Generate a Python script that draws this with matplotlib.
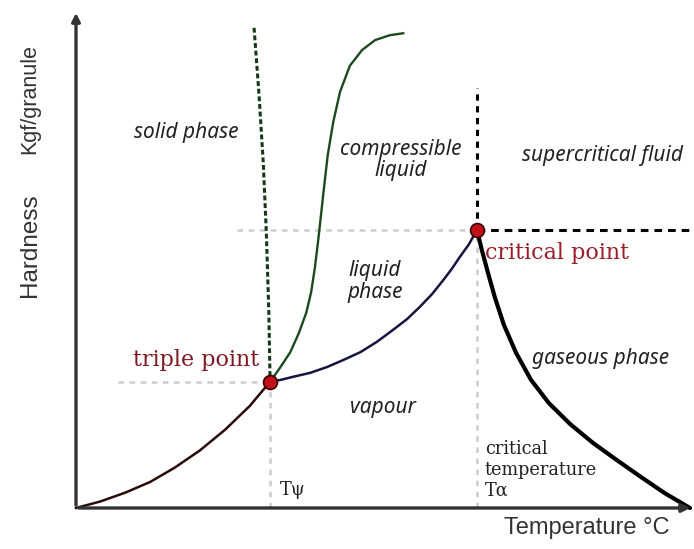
import matplotlib
matplotlib.use("Agg")
import matplotlib.pyplot as plt

plt.rcParams['lines.scale_dashes'] = False
plt.rcParams['lines.solid_joinstyle'] = 'round'

# Key points (temperature, hardness) in arbitrary units, axis runs 0..100
triple = (31.6, 25.6)
critical = (65.3, 56.4)

# Sublimation curve (origin -> triple point)
subl_t = [0.0, 3.9, 8.0, 12.1, 16.1, 20.2, 24.3, 28.3, 31.6]
subl_h = [0.0, 1.3, 3.1, 5.3, 8.2, 11.7, 15.9, 20.7, 25.6]

# Melting curve (solid green)
melt_t = [31.6, 33.2, 34.9, 36.3, 37.5, 38.3, 38.9, 39.4, 39.9, 40.4, 41.0, 41.9, 43.0, 44.6, 46.6, 48.7, 51.1, 53.3]
melt_h = [25.6, 28.4, 31.6, 35.5, 39.6, 43.8, 48.7, 53.8, 59.4, 65.1, 71.6, 78.3, 84.4, 89.7, 92.9, 94.9, 95.9, 96.3]

# Dashed green boundary
sdash_t = [29.0, 29.8, 30.5, 31.0, 31.4, 31.6]
sdash_h = [97.4, 84.0, 70.0, 55.8, 40.0, 26.4]

# Vaporization curve (triple -> critical)
vap_t = [31.6, 33.4, 35.3, 38.1, 40.9, 43.5, 46.3, 49.0, 51.6, 53.9, 56.0, 58.0, 59.8, 61.2, 62.5, 64.0, 65.3]
vap_h = [25.6, 26.0, 26.6, 27.4, 28.6, 30.0, 31.6, 33.7, 36.1, 38.3, 40.8, 43.4, 46.2, 48.5, 50.9, 53.5, 56.4]

# Gas curve (critical -> axis)
gas_t = [65.3, 66.1, 67.1, 68.2, 69.7, 71.7, 74.1, 77.0, 80.5, 84.2, 88.1, 92.0, 95.9, 100.0]
gas_h = [56.4, 52.3, 47.7, 42.8, 37.1, 31.4, 26.0, 21.3, 17.0, 13.2, 9.7, 6.3, 3.0, 0.0]

# Guide line extents
triple_guide_start = 6.8
critical_guide_start = 26.2
critical_top = 85.2
right_end = 101.3

fig = plt.figure(figsize=(6.94, 5.49), dpi=100)
ax = fig.add_axes([76 / 694, 41 / 549, 614 / 694, 493 / 549])
ax.set_xlim(0, 100)
ax.set_ylim(0, 100)
ax.axis("off")

gray = "#cccccc"
# light gray guides
ax.plot([triple_guide_start, triple[0]], [triple[1], triple[1]], color=gray, lw=1.8, dashes=(4, 4), clip_on=False)
ax.plot([triple[0], triple[0]], [0, triple[1]], color=gray, lw=1.8, dashes=(4, 4), clip_on=False)
ax.plot([critical_guide_start, critical[0]], [critical[1], critical[1]], color=gray, lw=1.8, dashes=(4, 4), clip_on=False)
ax.plot([critical[0], critical[0]], [0, critical[1]], color=gray, lw=1.8, dashes=(4, 4), clip_on=False)

# black dashed guides
ax.plot([critical[0], critical[0]], [critical[1], critical_top], color="black", lw=2.2, dashes=(4.5, 4), clip_on=False)
ax.plot([critical[0], right_end], [critical[1], critical[1]], color="black", lw=2.2, dashes=(5.5, 4.3), clip_on=False)

# phase boundaries
ax.plot(subl_t, subl_h, color="#2a0a0a", lw=1.8, clip_on=False)
ax.plot(sdash_t, sdash_h, color="#163816", lw=2.2, dashes=(3.5, 2), clip_on=False)
ax.plot(melt_t, melt_h, color="#1d4a1d", lw=1.7, clip_on=False)
ax.plot(vap_t, vap_h, color="#151540", lw=1.8, clip_on=False)
ax.plot(gas_t, gas_h, color="black", lw=3.0, clip_on=False, solid_capstyle="round")

# points
ax.plot(*triple, "o", ms=10, color="#c0101a", mec="#3a0000", mew=1.2, clip_on=False, zorder=5)
ax.plot(*critical, "o", ms=10, color="#c0101a", mec="#3a0000", mew=1.2, clip_on=False, zorder=5)

# axes with arrows
axis_col = "#333333"
ax.annotate("", xy=(0, 1.01), xytext=(0, 0), xycoords="axes fraction",
            arrowprops=dict(arrowstyle="-|>", lw=2.4, color=axis_col, mutation_scale=12))
ax.annotate("", xy=(1.005, 0), xytext=(0, 0), xycoords="axes fraction",
            arrowprops=dict(arrowstyle="-|>", lw=2.4, color=axis_col, mutation_scale=12))

# region labels
it = dict(fontfamily="Noto Sans", style="italic", fontsize=15, color="#222222", ha="center", va="center")
ax.text(17.9, 76.1, "solid phase", **it)
ax.text(52.9, 70.6, "compressible\nliquid", linespacing=1.05, **it)
ax.text(85.7, 71.6, "supercritical fluid", **it)
ax.text(48.7, 46.0, "liquid\nphase", linespacing=1.05, **it)
ax.text(85.5, 30.4, "gaseous phase", **it)
ax.text(50.0, 20.3, "vapour", **it)

serif = "DejaVu Serif"
ax.text(19.6, 30.0, "triple point", fontfamily=serif, fontsize=16, color="#7e1a22", ha="center", va="center")
ax.text(66.6, 51.7, "critical point", fontfamily=serif, fontsize=16, color="#9a1f28", ha="left", va="center")
ax.text(66.6, 7.7, "critical\ntemperature\nTα", fontfamily=serif, fontsize=12.8, color="#222222",
        ha="left", va="center", linespacing=1.2)
ax.text(33.2, 3.7, "Tψ", fontfamily=serif, fontsize=12.8, color="#222222", ha="left", va="center")

# axis titles
fig.text(30 / 694, 1 - 99 / 549, "Kgf/granule", rotation=90, fontfamily="Liberation Sans",
         fontsize=15.5, color="#333333", ha="center", va="center")
fig.text(30 / 694, 1 - 245 / 549, "Hardness", rotation=90, fontfamily="Liberation Sans",
         fontsize=17.5, color="#333333", ha="center", va="center")
fig.text(587 / 694, 1 - 528 / 549, "Temperature °C", fontfamily="Liberation Sans",
         fontsize=17, color="#333333", ha="center", va="center")

fig.savefig("out.png", dpi=100)
